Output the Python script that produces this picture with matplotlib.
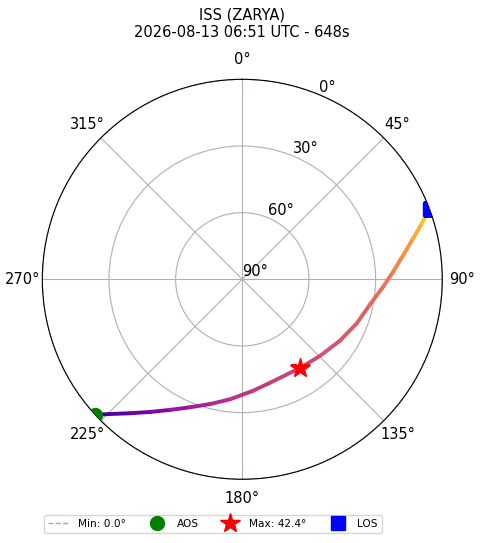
import numpy as np
import matplotlib
matplotlib.use("Agg")
import matplotlib.pyplot as plt

# проход спутника: азимут (град), элевация (град), время от AOS (с)
track_az = [227.4, 224.5, 220.0, 214.8, 209.0, 202.2, 194.5, 185.9, 174.5, 165.0, 147.0,
            134.6, 122.2, 111.0, 101.1, 93.0, 87.1, 81.4, 76.5, 72.7, 70.9, 69.5]
track_el = [0.0, 5.0, 11.3, 17.3, 22.8, 27.8, 32.0, 35.7, 39.6, 41.8, 42.4,
            40.9, 38.1, 34.8, 31.4, 26.5, 22.0, 16.7, 10.9, 5.4, 2.5, 0.0]
track_t = [0, 45, 95, 140, 180, 215, 245, 270, 295, 310, 324,
           345, 368, 390, 410, 436, 462, 495, 540, 590, 620, 648]

min_el = 0.0
aos = (227.4, 0.0)
max_pt = (147.0, 42.4)
los = (69.5, 0.0)
duration = 648

title = "ISS (ZARYA)\n2026-08-13 06:51 UTC - 648s"

fig = plt.figure(figsize=(4.8, 5.43), dpi=100)
ax = fig.add_axes([42.3 / 480, 1 - 479.3 / 543, 400 / 480, 400 / 543], projection="polar")
ax.set_theta_zero_location("N")
ax.set_theta_direction(-1)
ax.set_rlim(0, 90)

theta = np.radians(track_az)
r = 90 - np.array(track_el)
cmap = plt.get_cmap("plasma")
for i in range(len(theta) - 1):
    tm = (track_t[i] + track_t[i + 1]) / 2 / duration
    ax.plot(theta[i:i + 2], r[i:i + 2], color=cmap(0.05 + 0.88 * tm), lw=2.8,
            solid_capstyle="round", zorder=3)

# окружность минимальной элевации
circ = np.linspace(0, 2 * np.pi, 361)
ax.plot(circ, np.full_like(circ, 90 - min_el), "--", color="#2ca02c", alpha=0.6, lw=1,
        label=f"Min: {min_el:.1f}°", zorder=1)

ax.plot(np.radians(aos[0]), 90 - aos[1], "o", color="green", markersize=10, label="AOS", zorder=4)
ax.plot(np.radians(max_pt[0]), 90 - max_pt[1], "*", color="red", markersize=15,
        label=f"Max: {max_pt[1]:.1f}°", zorder=5)
ax.plot(np.radians(los[0]), 90 - los[1], "s", color="blue", markersize=10, label="LOS", zorder=4)

ax.set_rticks([0, 30, 60, 90])
ax.set_yticklabels(["90°", "60°", "30°", "0°"], fontsize=10.5)
ax.set_thetagrids(range(0, 360, 45), [f"{a}°" for a in range(0, 360, 45)], fontsize=10.5)

ax.set_title(title, fontsize=10.5, y=1.105, pad=0)

fig.legend(loc="center", bbox_to_anchor=(213 / 480, 1 - 524 / 543), ncol=4, fontsize=7.6,
           frameon=True)

fig.savefig("out.png", dpi=100)
